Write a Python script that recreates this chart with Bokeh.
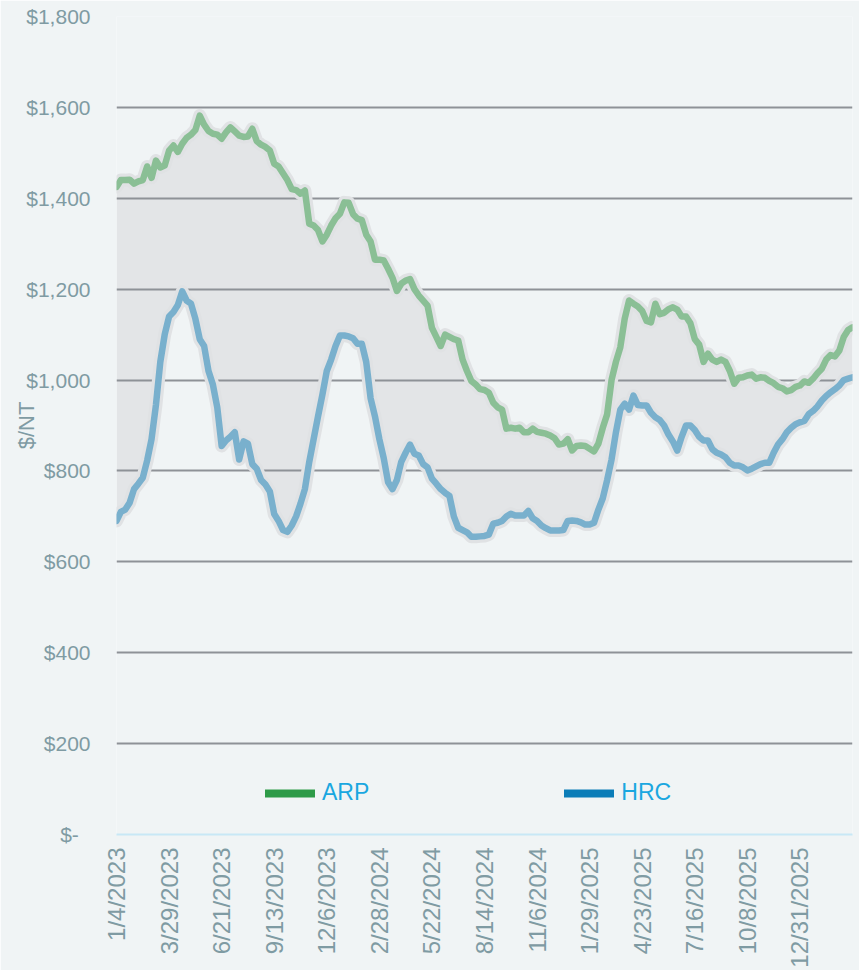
import math
from bokeh.plotting import figure
from bokeh.models import Range1d, FixedTicker, Legend, LegendItem
from bokeh.embed import file_html
from bokeh.resources import INLINE

# --- data (weekly, starting 1/4/2023) ---
tick_labels = ["1/4/2023", "3/29/2023", "6/21/2023", "9/13/2023", "12/6/2023",
               "2/28/2024", "5/22/2024", "8/14/2024", "11/6/2024", "1/29/2025",
               "4/23/2025", "7/16/2025", "10/8/2025", "12/31/2025"]
tick_step_weeks = 12

arp = [1425, 1440, 1440, 1441, 1432, 1437, 1440, 1470, 1445, 1483,
       1468, 1472, 1505, 1516, 1502, 1520, 1533, 1540, 1550, 1582,
       1562, 1548, 1542, 1540, 1531, 1545, 1556, 1547, 1538, 1535,
       1536, 1553, 1526, 1518, 1513, 1505, 1476, 1470, 1455, 1440,
       1420, 1418, 1410, 1417, 1344, 1340, 1330, 1305, 1320, 1340,
       1356, 1366, 1391, 1390, 1365, 1355, 1352, 1320, 1305, 1265,
       1265, 1263, 1245, 1225, 1196, 1212, 1219, 1222, 1200, 1186,
       1175, 1164, 1115, 1095, 1075, 1100, 1095, 1090, 1087, 1045,
       1020, 998, 990, 980, 978, 972, 950, 940, 935, 893,
       895, 893, 895, 885, 885, 893, 886, 884, 882, 878,
       872, 858, 860, 870, 845, 855, 856, 855, 849, 843,
       860, 895, 925, 1000, 1040, 1072, 1135, 1175, 1168, 1162,
       1152, 1130, 1127, 1168, 1145, 1148, 1156, 1160, 1155, 1140,
       1140, 1125, 1090, 1078, 1040, 1058, 1045, 1040, 1045, 1040,
       1020, 992, 1005, 1006, 1010, 1012, 1003, 1006, 1005, 998,
       993, 985, 982, 975, 978, 985, 988, 997, 994, 1003,
       1015, 1025, 1045, 1055, 1052, 1065, 1095, 1110, 1116]

hrc = [690, 710, 715, 730, 760, 772, 785, 823, 870, 945,
       1040, 1100, 1140, 1150, 1165, 1195, 1175, 1168, 1135, 1090,
       1075, 1020, 990, 940, 855, 867, 875, 885, 825, 865,
       860, 815, 805, 780, 770, 755, 705, 690, 670, 666,
       680, 700, 728, 760, 820, 870, 920, 968, 1020, 1045,
       1075, 1098, 1098, 1096, 1092, 1080, 1080, 1040, 960, 920,
       870, 828, 775, 760, 780, 820, 840, 858, 838, 834,
       815, 808, 783, 772, 760, 752, 745, 700, 675, 670,
       665, 655, 655, 656, 657, 660, 684, 686, 690, 700,
       706, 702, 702, 702, 712, 696, 690, 680, 674, 669,
       669, 669, 670, 690, 691, 690, 687, 682, 682, 686,
       715, 740, 780, 825, 885, 935, 948, 935, 966, 945,
       944, 944, 928, 918, 912, 900, 880, 865, 845, 875,
       900, 900, 890, 875, 867, 867, 848, 840, 836, 830,
       818, 812, 812, 808, 801, 805, 810, 815, 818, 818,
       840, 858, 870, 885, 895, 903, 907, 910, 925, 932,
       942, 955, 965, 973, 980, 988, 1000, 1003, 1006]

y_ticks = [0, 200, 400, 600, 800, 1000, 1200, 1400, 1600, 1800]
series_names = ["ARP", "HRC"]
y_title = "$/NT"

weeks = list(range(len(arp)))
x_ticks = [i * tick_step_weeks for i in range(len(tick_labels))]

BG = "#F0F4F5"
LABEL_COLOR = "#7F9BA3"
FONT = "Liberation Sans"

p = figure(width=859, height=970, output_backend="svg", toolbar_location=None,
           x_range=Range1d(0, len(arp) - 1), y_range=Range1d(0, 1800),
           min_border_left=116, min_border_right=7, min_border_top=16,
           min_border_bottom=136)
p.background_fill_color = BG
p.border_fill_color = BG
p.outline_line_color = None

# shaded band between the two series
p.varea(x=weeks, y1=hrc, y2=arp, fill_color="#E3E5E7", level="image")

# glow under lines
p.line(weeks, arp, line_color="#E0E2E4", line_width=13, line_join="round", line_cap="round")
p.line(weeks, hrc, line_color="#E0E2E4", line_width=13, line_join="round", line_cap="round")
p.line(weeks, arp, line_color="#8ABF95", line_width=6.5, line_join="round", line_cap="round")
p.line(weeks, hrc, line_color="#79B0CD", line_width=6.5, line_join="round", line_cap="round")

# x axis
p.xaxis.ticker = FixedTicker(ticks=x_ticks)
p.xaxis.major_label_overrides = {t: s for t, s in zip(x_ticks, tick_labels)}
p.xaxis.major_label_orientation = math.pi / 2
p.xaxis.major_label_text_font_size = "24px"
p.xaxis.major_label_text_font = FONT
p.xaxis.major_label_text_color = LABEL_COLOR
p.xaxis.major_label_standoff = 13
p.xaxis.major_tick_out = 0
p.xaxis.major_tick_in = 0
p.xaxis.major_tick_line_color = None
p.xaxis.minor_tick_line_color = None
p.xaxis.axis_line_color = "#C8E8F6"
p.xaxis.axis_line_width = 2

p.yaxis.ticker = FixedTicker(ticks=y_ticks)
p.yaxis.major_label_overrides = {v: ("$-\u00a0\u00a0" if v == 0 else f"${v:,}") for v in y_ticks}
p.yaxis.major_label_text_font_size = "21px"
p.yaxis.major_label_text_font = FONT
p.yaxis.major_label_text_color = LABEL_COLOR
p.yaxis.major_label_standoff = 20
p.yaxis.major_tick_line_color = None
p.yaxis.minor_tick_line_color = None
p.yaxis.axis_line_color = None
p.yaxis.axis_label = y_title
p.yaxis.axis_label_text_font = FONT
p.yaxis.axis_label_text_font_style = "normal"
p.yaxis.axis_label_text_font_size = "22px"
p.yaxis.axis_label_text_color = LABEL_COLOR
p.yaxis.axis_label_standoff = -16

p.xgrid.grid_line_color = None
p.ygrid.grid_line_color = "#8E9297"
p.ygrid.grid_line_width = 2

# legend
nan = float("nan")
r_arp = p.line([weeks[0]], [nan], line_color="#2E9B48", line_width=8, line_cap="round")
r_hrc = p.line([weeks[0]], [nan], line_color="#0B7DB8", line_width=8, line_cap="round")
legend = Legend(items=[LegendItem(label=series_names[0], renderers=[r_arp]),
                       LegendItem(label=series_names[1], renderers=[r_hrc])],
                location=(149, 28), orientation="horizontal",
                glyph_width=50, glyph_height=20, label_standoff=7, spacing=195,
                padding=0, margin=0, border_line_color=None,
                background_fill_alpha=0, label_text_font=FONT,
                label_text_font_size="23px", label_text_color="#1AA7E0")
p.add_layout(legend, "center")

open("out.html", "w").write(file_html(p, INLINE))
